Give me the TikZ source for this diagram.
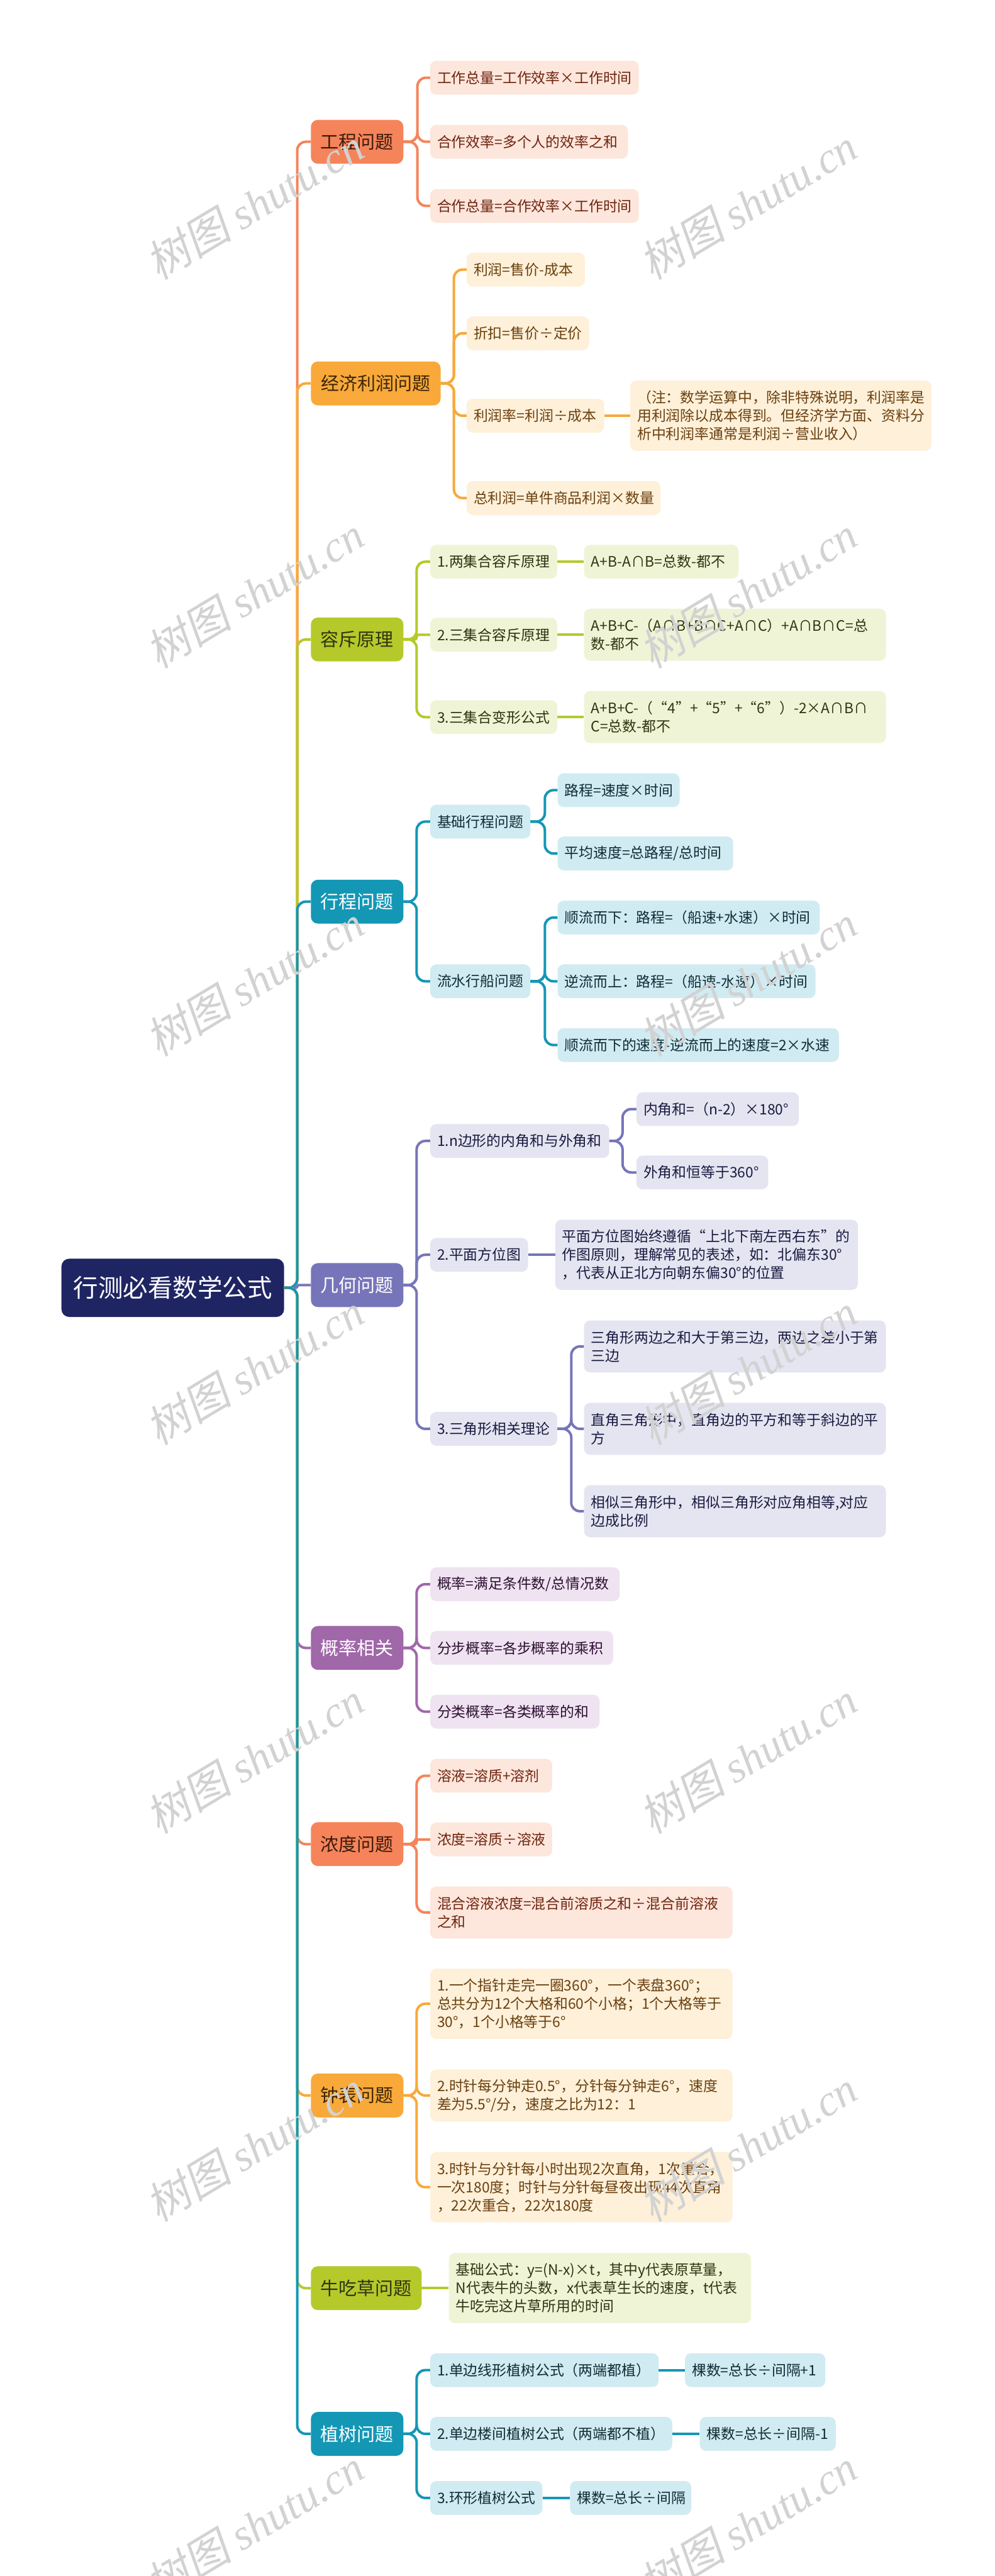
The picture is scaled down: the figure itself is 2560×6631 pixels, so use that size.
\documentclass[tikz,border=0pt]{standalone}
\usepackage{fontspec}
\setmainfont{Noto Sans CJK SC}
\newfontfamily\wmlat{Liberation Serif}
\newfontfamily\wmcjk{Noto Sans CJK SC}[FakeSlant=0.2]
\definecolor{rootc}{HTML}{1F2563}
\definecolor{orA}{HTML}{F5845A}
\definecolor{orAl}{HTML}{FDE6DB}
\definecolor{orAt}{HTML}{6E2410}
\definecolor{orAc}{HTML}{3D1A0C}
\definecolor{yeB}{HTML}{F8A93A}
\definecolor{yeBl}{HTML}{FEF0D9}
\definecolor{yeBt}{HTML}{6A3F0E}
\definecolor{yeBc}{HTML}{3C2606}
\definecolor{grC}{HTML}{B5C92B}
\definecolor{grCl}{HTML}{F0F4D7}
\definecolor{grCt}{HTML}{2E3510}
\definecolor{blD}{HTML}{1497B5}
\definecolor{blDl}{HTML}{D1EBF2}
\definecolor{blDt}{HTML}{0F2D36}
\definecolor{puE}{HTML}{7775B9}
\definecolor{puEl}{HTML}{E5E5F2}
\definecolor{puEt}{HTML}{1A1A40}
\definecolor{viF}{HTML}{A067A9}
\definecolor{viFl}{HTML}{EFE3F1}
\definecolor{viFt}{HTML}{2D0E31}
\definecolor{wmc}{HTML}{D2D2D2}
\begin{document}
\begin{tikzpicture}[x=1pt,y=-1pt,
  rootbox/.style={anchor=west, fill=rootc, text=white, minimum width=573pt, minimum height=150pt, rounded corners=20pt, inner sep=0pt, font=\fontsize{64}{72}\selectfont},
  cat/.style={anchor=west, rounded corners=18pt, inner sep=0pt, minimum height=113pt, align=center, font=\fontsize{47}{56}\selectfont},
  leaf/.style={anchor=west, rounded corners=16pt, inner xsep=18pt, inner ysep=0pt, minimum height=87pt, align=left, font=\fontsize{37}{47}\selectfont},
  two/.style={minimum height=134pt},
  three/.style={minimum height=181pt},
  lA/.style={leaf, fill=orAl, text=orAt},
  lB/.style={leaf, fill=yeBl, text=yeBt},
  lC/.style={leaf, fill=grCl, text=grCt},
  lD/.style={leaf, fill=blDl, text=blDt},
  lE/.style={leaf, fill=puEl, text=puEt},
  lF/.style={leaf, fill=viFl, text=viFt},
  conn/.style={line width=6.5pt, rounded corners=22pt},
  wm/.style={text=wmc, rotate=31, inner sep=0pt, font=\fontsize{112}{112}\selectfont}
]
\useasboundingbox (0,0) rectangle (2560,6631);
\fill[white] (0,0) rectangle (2560,6631);

% root
\node[rootbox] (root) at (158,3315) {行测必看数学公式};
\coordinate (trunk) at (765,3315);

% categories
\node[cat, fill=orA, text=orAc, minimum width=238pt] (cA) at (800,365) {工程问题};
\node[cat, fill=yeB, text=yeBc, minimum width=334pt] (cB) at (800,987) {经济利润问题};
\node[cat, fill=grC, text=grCt, minimum width=238pt] (cC) at (800,1646) {容斥原理};
\node[cat, fill=blD, text=white, minimum width=238pt] (cD) at (800,2321) {行程问题};
\node[cat, fill=puE, text=white, minimum width=238pt] (cE) at (800,3308) {几何问题};
\node[cat, fill=viF, text=white, minimum width=238pt] (cF) at (800,4242) {概率相关};
\node[cat, fill=orA, text=orAc, minimum width=238pt] (cG) at (800,4747) {浓度问题};
\node[cat, fill=yeB, text=yeBc, minimum width=238pt] (cH) at (800,5394) {钟表问题};
\node[cat, fill=grC, text=grCt, minimum width=285pt] (cI) at (800,5890) {牛吃草问题};
\node[cat, fill=blD, text=white, minimum width=238pt] (cJ) at (800,6265) {植树问题};

% 工程问题
\node[lA, text width=501pt] (A1) at (1107,200) {工作总量=工作效率×工作时间};
\node[lA, text width=473pt] (A2) at (1107,365) {合作效率=多个人的效率之和};
\node[lA, text width=501pt] (A3) at (1107,530) {合作总量=合作效率×工作时间};

% 经济利润问题
\node[lB, text width=268pt] (B1) at (1201,694) {利润=售价-成本};
\node[lB, text width=279pt] (B2) at (1201,858) {折扣=售价÷定价};
\node[lB, text width=318pt] (B3) at (1201,1070) {利润率=利润÷成本};
\node[lB, text width=463pt] (B4) at (1201,1282) {总利润=单件商品利润×数量};
\node[lB, three, text width=739pt] (B3n) at (1622,1070) {（注：数学运算中，除非特殊说明，利润率是\\用利润除以成本得到。但经济学方面、资料分\\析中利润率通常是利润÷营业收入）};

% 容斥原理
\node[lC, text width=291pt] (C1) at (1107,1446) {1.两集合容斥原理};
\node[lC, text width=291pt] (C2) at (1107,1634) {2.三集合容斥原理};
\node[lC, text width=291pt] (C3) at (1107,1846) {3.三集合变形公式};
\node[lC, text width=362pt] (C1a) at (1503,1446) {A+B-A∩B=总数-都不};
\node[lC, two, text width=741pt] (C2a) at (1503,1634) {A+B+C-（A∩B+B∩C+A∩C）+A∩B∩C=总\\数-都不};
\node[lC, two, text width=741pt] (C3a) at (1503,1846) {A+B+C-（“4”+“5”+“6”）-2×A∩B∩\\C=总数-都不};

% 行程问题
\node[lD, text width=222pt] (D1) at (1107,2115) {基础行程问题};
\node[lD, text width=222pt] (D2) at (1107,2526) {流水行船问题};
\node[lD, text width=278pt] (D1a) at (1435,2034) {路程=速度×时间};
\node[lD, text width=416pt] (D1b) at (1435,2197) {平均速度=总路程/总时间};
\node[lD, text width=639pt] (D2a) at (1435,2362) {顺流而下：路程=（船速+水速）×时间};
\node[lD, text width=628pt] (D2b) at (1435,2526) {逆流而上：路程=（船速-水速）×时间};
\node[lD, text width=688pt] (D2c) at (1435,2690) {顺流而下的速度-逆流而上的速度=2×水速};

% 几何问题
\node[lE, text width=425pt] (E1) at (1107,2937) {1.n边形的内角和与外角和};
\node[lE, text width=382pt] (E1a) at (1638,2855) {内角和=（n-2）×180°};
\node[lE, text width=303pt] (E1b) at (1638,3018) {外角和恒等于360°};
\node[lE, text width=216pt] (E2) at (1107,3230) {2.平面方位图};
\node[lE, three, text width=743pt] (E2a) at (1429,3230) {平面方位图始终遵循“上北下南左西右东”的\\作图原则，理解常见的表述，如：北偏东30°\\，代表从正北方向朝东偏30°的位置};
\node[lE, text width=291pt] (E3) at (1107,3678) {3.三角形相关理论};
\node[lE, two, text width=741pt] (E3a) at (1503,3466) {三角形两边之和大于第三边，两边之差小于第\\三边};
\node[lE, two, text width=741pt] (E3b) at (1503,3678) {直角三角形中，直角边的平方和等于斜边的平\\方};
\node[lE, two, text width=741pt] (E3c) at (1503,3890) {相似三角形中，相似三角形对应角相等,对应\\边成比例};

% 概率相关
\node[lF, text width=452pt] (F1) at (1107,4078) {概率=满足条件数/总情况数};
\node[lF, text width=435pt] (F2) at (1107,4242) {分步概率=各步概率的乘积};
\node[lF, text width=400pt] (F3) at (1107,4406) {分类概率=各类概率的和};

% 浓度问题
\node[lA, text width=278pt] (G1) at (1107,4571) {溶液=溶质+溶剂};
\node[lA, text width=278pt] (G2) at (1107,4735) {浓度=溶质÷溶液};
\node[lA, two, text width=742pt] (G3) at (1107,4923) {混合溶液浓度=混合前溶质之和÷混合前溶液\\之和};

% 钟表问题
\node[lB, three, text width=742pt] (H1) at (1107,5158) {1.一个指针走完一圈360°，一个表盘360°；\\总共分为12个大格和60个小格；1个大格等于\\30°，1个小格等于6°};
\node[lB, two, text width=742pt] (H2) at (1107,5394) {2.时针每分钟走0.5°，分针每分钟走6°，速度\\差为5.5°/分，速度之比为12：1};
\node[lB, three, text width=742pt] (H3) at (1107,5630) {3.时针与分针每小时出现2次直角，1次重合，\\一次180度；时针与分针每昼夜出现44次直角\\，22次重合，22次180度};

% 牛吃草问题
\node[lC, three, text width=742pt] (I1) at (1155,5890) {基础公式：y=(N-x)×t，其中y代表原草量，\\N代表牛的头数，x代表草生长的速度，t代表\\牛吃完这片草所用的时间};

% 植树问题
\node[lD, text width=552pt] (J1) at (1107,6101) {1.单边线形植树公式（两端都植）};
\node[lD, text width=325pt] (J1a) at (1763,6101) {棵数=总长÷间隔+1};
\node[lD, text width=587pt] (J2) at (1107,6265) {2.单边楼间植树公式（两端都不植）};
\node[lD, text width=314pt] (J2a) at (1801,6265) {棵数=总长÷间隔-1};
\node[lD, text width=253pt] (J3) at (1107,6430) {3.环形植树公式};
\node[lD, text width=276pt] (J3a) at (1467,6430) {棵数=总长÷间隔};

% root -> categories
\draw[conn, orA] (root.east) -- (trunk) |- (cA.west);
\draw[conn, yeB] (root.east) -- (trunk) |- (cB.west);
\draw[conn, grC] (root.east) -- (trunk) |- (cC.west);
\draw[conn, blD] (root.east) -- (trunk) |- (cD.west);
\draw[conn, puE, rounded corners=3pt] (root.east) -- (trunk) |- (cE.west);
\draw[conn, viF] (root.east) -- (trunk) |- (cF.west);
\draw[conn, orA] (root.east) -- (trunk) |- (cG.west);
\draw[conn, yeB] (root.east) -- (trunk) |- (cH.west);
\draw[conn, grC] (root.east) -- (trunk) |- (cI.west);
\draw[conn, blD] (root.east) -- (trunk) |- (cJ.west);

% 工程
\foreach \n in {A1,A2,A3} \draw[conn, orA] (cA.east) -- ++(36,0) |- (\n.west);
% 经济
\foreach \n in {B1,B2,B3,B4} \draw[conn, yeB] (cB.east) -- ++(34,0) |- (\n.west);
\draw[conn, yeB] (B3.east) -- (B3n.west);
% 容斥
\draw[conn, grC] (cC.east) -- ++(34,0) |- (C1.west);
\draw[conn, grC, rounded corners=5pt] (cC.east) -- ++(34,0) |- (C2.west);
\draw[conn, grC] (cC.east) -- ++(34,0) |- (C3.west);
\draw[conn, grC] (C1.east) -- (C1a.west);
\draw[conn, grC] (C2.east) -- (C2a.west);
\draw[conn, grC] (C3.east) -- (C3a.west);
% 行程
\foreach \n in {D1,D2} \draw[conn, blD] (cD.east) -- ++(34,0) |- (\n.west);
\foreach \n in {D1a,D1b} \draw[conn, blD] (D1.east) -- ++(37,0) |- (\n.west);
\foreach \n in {D2a,D2b,D2c} \draw[conn, blD] (D2.east) -- ++(37,0) |- (\n.west);
% 几何
\foreach \n in {E1,E2,E3} \draw[conn, puE] (cE.east) -- ++(34,0) |- (\n.west);
\foreach \n in {E1a,E1b} \draw[conn, puE] (E1.east) -- ++(34,0) |- (\n.west);
\draw[conn, puE] (E2.east) -- (E2a.west);
\foreach \n in {E3a,E3b,E3c} \draw[conn, puE] (E3.east) -- ++(36,0) |- (\n.west);
% 概率
\foreach \n in {F1,F2,F3} \draw[conn, viF] (cF.east) -- ++(34,0) |- (\n.west);
% 浓度
\draw[conn, orA] (cG.east) -- ++(34,0) |- (G1.west);
\draw[conn, orA, rounded corners=5pt] (cG.east) -- ++(34,0) |- (G2.west);
\draw[conn, orA] (cG.east) -- ++(34,0) |- (G3.west);
% 钟表
\foreach \n in {H1,H2,H3} \draw[conn, yeB] (cH.east) -- ++(34,0) |- (\n.west);
% 牛吃草
\draw[conn, grC] (cI.east) -- (I1.west);
% 植树
\foreach \n in {J1,J2,J3} \draw[conn, blD] (cJ.east) -- ++(34,0) |- (\n.west);
\draw[conn, blD] (J1.east) -- (J1a.west);
\draw[conn, blD] (J2.east) -- (J2a.west);
\draw[conn, blD] (J3.east) -- (J3a.west);

% watermarks
\foreach \i/\yy in {1/525,2/1525,3/2525,4/3525,5/4525,6/5525,7/6500}{
  \node[wm] (wmL\i) at (655,\yy) {{\wmcjk 树图} {\wmlat\itshape shutu.cn}};
  \node[wm] (wmR\i) at (1925,\yy) {{\wmcjk 树图} {\wmlat\itshape shutu.cn}};
}
\end{tikzpicture}
\end{document}
